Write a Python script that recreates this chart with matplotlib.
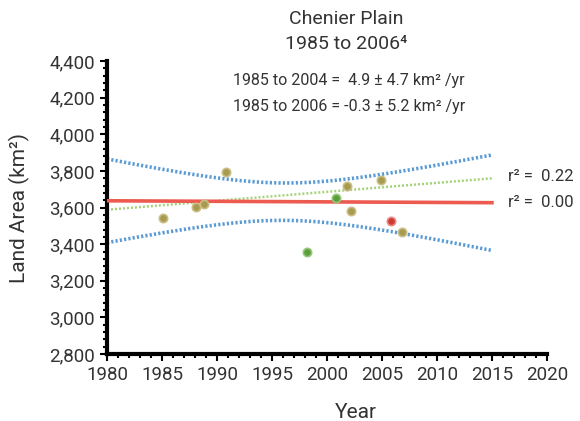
import numpy as np
import matplotlib
matplotlib.use('Agg')
import matplotlib.pyplot as plt
from matplotlib.ticker import MultipleLocator, FuncFormatter

plt.rcParams['font.family'] = ['Roboto', 'DejaVu Sans']

years_a = [1985.1, 1988.1, 1988.8, 1990.8, 2001.8, 2002.2, 2004.9, 2006.8]
area_a = [3543, 3603, 3621, 3792, 3717, 3579, 3750, 3464]
years_g = [1998.2, 2000.8]
area_g = [3357, 3652]
years_r = [2005.8]
area_r = [3528]

# Trend lines (slope km2/yr, value at 1980)
trend_years = [1980, 2015]
slope_04, start_04 = 4.9, 3588
slope_06, start_06 = -0.3, 3637
# confidence band around the 1985-2006 line
band_center_year = 1996.1
band_min_half = 102
band_growth = 12.7

fig = plt.figure(figsize=(5.8, 4.21), dpi=100)
ax = fig.add_axes([0.1845, 0.159, 0.7585, 0.696])

txt = '#333333'
yrs = np.linspace(trend_years[0], trend_years[1], 200)
line06 = start_06 + slope_06 * (yrs - 1980)
line04 = start_04 + slope_04 * (yrs - 1980)
half = np.sqrt(band_min_half**2 + (band_growth * (yrs - band_center_year))**2)

ax.plot(yrs, line06 + half, color='#5b9bd5', lw=2.6, ls=(0, (0.6, 0.6)), zorder=2)
ax.plot(yrs, line06 - half, color='#5b9bd5', lw=2.6, ls=(0, (0.6, 0.6)), zorder=2)
ax.plot(yrs, line04, color='#a6d27a', lw=1.8, ls=(0, (0.8, 0.8)), zorder=2)
ax.plot(yrs, line06, color='#ec5a50', lw=2.6, zorder=3)

ax.plot(years_a, area_a, 'o', ms=6, color='#a89a4e', mec='#c9bd85', mew=1.2, zorder=4)
ax.plot(years_g, area_g, 'o', ms=6, color='#5e9e3a', mec='#93c77a', mew=1.2, zorder=4)
ax.plot(years_r, area_r, 'o', ms=6, color='#cf3a34', mec='#ea8a84', mew=1.2, zorder=4)

ax.set_xlim(1980, 2020)
ax.set_ylim(2800, 4400)
ax.xaxis.set_major_locator(MultipleLocator(5))
ax.xaxis.set_minor_locator(MultipleLocator(1))
ax.yaxis.set_major_locator(MultipleLocator(200))
ax.yaxis.set_minor_locator(MultipleLocator(40))
ax.yaxis.set_major_formatter(FuncFormatter(lambda v, p: f'{int(v):,}'))

for s in ['top', 'right']:
    ax.spines[s].set_visible(False)
for s in ['left', 'bottom']:
    ax.spines[s].set_linewidth(3)
ax.tick_params(which='major', length=5, width=1.5, labelsize=13.5, colors='black', labelcolor=txt)
ax.tick_params(which='minor', length=3, width=1.5, colors='black')

ax.set_xlabel('Year', fontsize=15, color=txt)
ax.xaxis.set_label_coords(0.566, -0.168)
ax.set_ylabel('Land Area (km²)', fontsize=15, color=txt)
ax.yaxis.set_label_coords(-0.175, 0.5)

fig.text(0.597, 0.955, 'Chenier Plain', ha='center', va='center', fontsize=14, color=txt)
fig.text(0.597, 0.895, '1985 to 2006⁴', ha='center', va='center', fontsize=14, color=txt)
fig.text(0.402, 0.808, '1985 to 2004 =  4.9 ± 4.7 km² /yr', ha='left', va='center', fontsize=11.5, color=txt)
fig.text(0.402, 0.748, '1985 to 2006 = -0.3 ± 5.2 km² /yr', ha='left', va='center', fontsize=11.5, color=txt)
fig.text(0.876, 0.58, 'r² =  0.22', ha='left', va='center', fontsize=12, color=txt)
fig.text(0.876, 0.519, 'r² =  0.00', ha='left', va='center', fontsize=12, color=txt)

fig.savefig('out.png', dpi=100)
